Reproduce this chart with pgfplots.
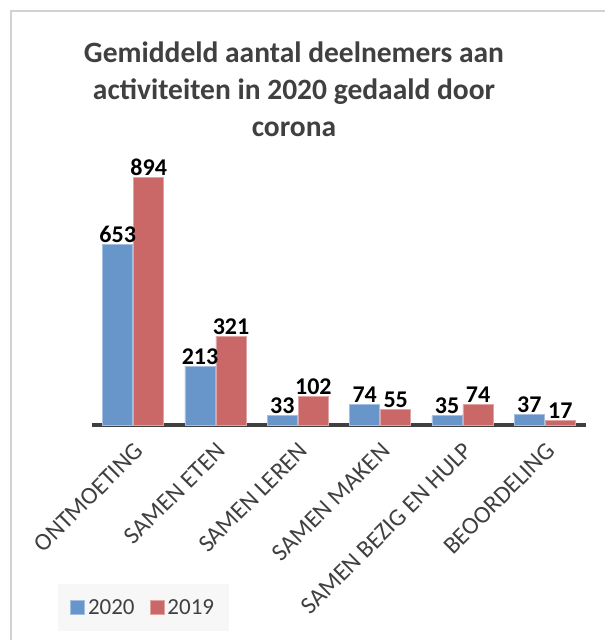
\documentclass[border=0pt]{standalone}
\usepackage{fontspec}
\setmainfont{Carlito}
\usepackage{pgfplots}
\pgfplotsset{compat=1.18}
\definecolor{cblue}{RGB}{104,149,202}
\definecolor{cred}{RGB}{201,104,102}
\definecolor{txtgray}{RGB}{64,64,64}
\definecolor{framegray}{RGB}{210,210,210}
\begin{document}
\begin{tikzpicture}
\useasboundingbox (0pt,0pt) rectangle (605pt,640pt);
\fill[white] (0pt,0pt) rectangle (605pt,640pt);
\draw[framegray, line width=1.5pt] (11pt,0pt) -- (11pt,629pt) -- (605pt,629pt);
\node[font=\fontsize{29.5}{37}\selectfont\bfseries, text=txtgray, anchor=base] at (294pt,577pt) {Gemiddeld aantal deelnemers aan};
\node[font=\fontsize{29.5}{37}\selectfont\bfseries, text=txtgray, anchor=base] at (294pt,540pt) {activiteiten in 2020 gedaald door};
\node[font=\fontsize{29.5}{37}\selectfont\bfseries, text=txtgray, anchor=base] at (294pt,503pt) {corona};
\begin{axis}[
  at={(92pt,215pt)}, anchor=south west,
  scale only axis, width=494pt, height=276.6pt,
  /pgf/number format/assume math mode=true,
  ybar=1pt, bar width=30pt,
  xmin=-0.5, xmax=5.5, ymin=0, ymax=1000,
  axis x line*=bottom, axis y line=none,
  x axis line style={line width=3.5pt, txtgray, -},
  xtick={0,1,2,3,4,5},
  xticklabels={ONTMOETING, SAMEN ETEN, SAMEN LEREN, SAMEN MAKEN, SAMEN BEZIG EN HULP, BEOORDELING},
  xtick style={draw=none},
  xticklabel shift=9pt,
  xticklabel style={rotate=45, anchor=north east, font=\fontsize{24.5}{28}\selectfont, text=txtgray, inner sep=2pt},
  nodes near coords,
  nodes near coords style={font=\fontsize{24}{28}\selectfont\bfseries, text=black, inner sep=1.5pt},
  clip=false,
  legend columns=2,
  legend style={at={(-0.0688,-0.7448)}, anchor=south west, draw=none, fill=black!3,
    font=\fontsize{23}{27}\selectfont, text=txtgray, inner xsep=12pt, inner ysep=13pt,
    nodes={inner xsep=3pt, inner ysep=2pt},
    /tikz/every even column/.append style={column sep=12pt}},
  legend image code/.code={\fill[#1] (0pt,-7pt) rectangle (14pt,7pt);},
]
\addplot[fill=cblue, draw=cblue!60!white, line width=0.8pt] coordinates {(0,653) (1,213) (2,33) (3,74) (4,35) (5,37)};
\addplot[fill=cred, draw=cred!60!white, line width=0.8pt] coordinates {(0,894) (1,321) (2,102) (3,55) (4,74) (5,17)};
\legend{2020, 2019}
\end{axis}
\end{tikzpicture}
\end{document}
